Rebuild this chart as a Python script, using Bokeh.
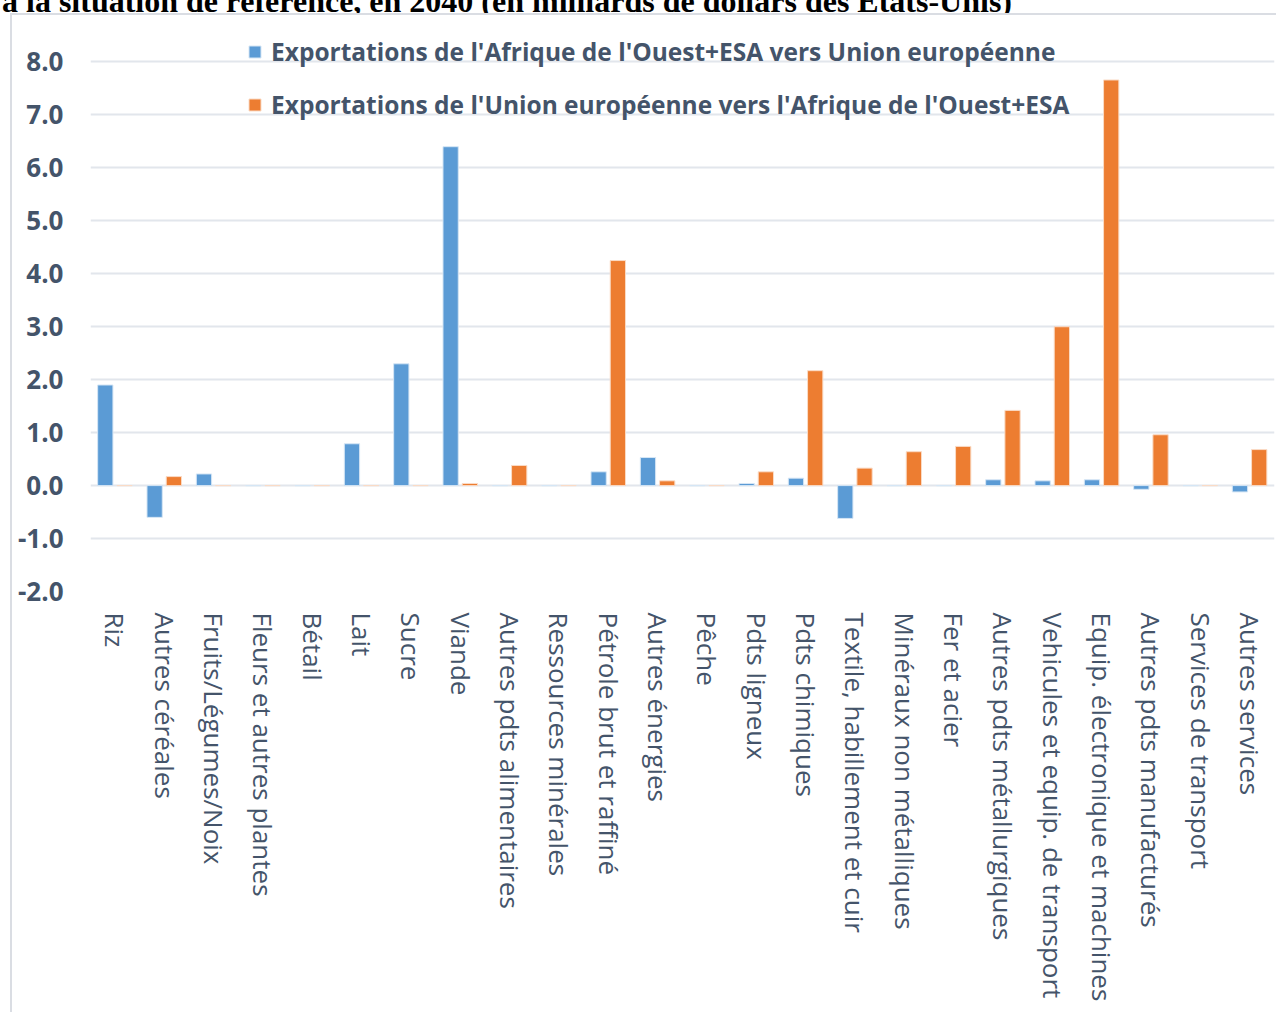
from bokeh.plotting import figure
from bokeh.models import (ColumnDataSource, FactorRange, FixedTicker, NumeralTickFormatter,
                          Legend, LegendItem, Div)
from bokeh.layouts import column
from bokeh.transform import dodge
from bokeh.embed import file_html
from bokeh.resources import INLINE

categories = ["Riz", "Autres céréales", "Fruits/Légumes/Noix", "Fleurs et autres plantes",
              "Bétail", "Lait", "Sucre", "Viande", "Autres pdts alimentaires",
              "Ressources minérales", "Pétrole brut et raffiné", "Autres énergies", "Pêche",
              "Pdts ligneux", "Pdts chimiques", "Textile, habillement et cuir",
              "Minéraux non métalliques", "Fer et acier", "Autres pdts métallurgiques",
              "Vehicules et equip. de transport", "Equip. électronique et machines",
              "Autres pdts manufacturés", "Services de transport", "Autres services"]

afr_to_eu = [1.90, -0.60, 0.22, 0.0, 0.0, 0.79, 2.30, 6.40, 0.0, 0.0, 0.26, 0.53, 0.0,
             0.04, 0.14, -0.62, 0.0, 0.0, 0.11, 0.09, 0.11, -0.07, 0.0, -0.12]
eu_to_afr = [0.0, 0.17, 0.0, 0.0, 0.0, 0.0, 0.0, 0.04, 0.38, 0.0, 4.25, 0.09, 0.0,
             0.26, 2.17, 0.33, 0.64, 0.74, 1.42, 3.00, 7.66, 0.96, 0.0, 0.68]

y_ticks = [-2, -1, 0, 1, 2, 3, 4, 5, 6, 7, 8]

series_names = ["Exportations de l'Afrique de l'Ouest+ESA vers Union européenne",
                "Exportations de l'Union européenne vers l'Afrique de l'Ouest+ESA"]
title_text = "à la situation de référence, en 2040 (en milliards de dollars des États-Unis)"

TEXT = "#44546A"
FONT = "Open Sans"

src = ColumnDataSource(dict(cat=categories, a=afr_to_eu, e=eu_to_afr))

# title strip (only its lower part is visible, as in the source page)
title_div = Div(
    text=('<div style="margin-top:-21px;padding-left:2px;white-space:nowrap;'
          'font-family:\'Liberation Serif\';font-weight:bold;font-size:32px;'
          'line-height:36px;color:black;">' + title_text + '</div>'),
    width=1276, height=13, styles={"overflow": "hidden", "margin": "0", "padding": "0"})

p = figure(x_range=FactorRange(*categories, range_padding=0), y_range=(-2.0, 8.5),
           width=1276, height=999, output_backend="svg", toolbar_location=None,
           min_border_left=90, min_border_right=2, min_border_top=22, min_border_bottom=421)
p.outline_line_color = None
p.background_fill_color = None
p.border_fill_color = None
# chart-area box (top-left corner, light grey)
p.styles = {
    "background-image": "linear-gradient(#DADDE3,#DADDE3), linear-gradient(#DADDE3,#DADDE3)",
    "background-size": "2px 100%, 100% 2px",
    "background-position": "10px 0px, 10px 0px",
    "background-repeat": "no-repeat",
}

r1 = p.vbar(x=dodge("cat", -0.2, range=p.x_range), top="a", bottom=0, width=0.31, source=src,
            fill_color="#5B9BD5", line_color="#D6E6F5", line_width=1)
r2 = p.vbar(x=dodge("cat", 0.19, range=p.x_range), top="e", bottom=0, width=0.31, source=src,
            fill_color="#ED7D31", line_color="#FADBC6", line_width=1)

# axes
p.yaxis.ticker = FixedTicker(ticks=y_ticks)
p.yaxis.formatter = NumeralTickFormatter(format="0.0")
p.yaxis.axis_line_color = None
p.yaxis.major_tick_line_color = None
p.yaxis.minor_tick_line_color = None
p.yaxis.major_tick_out = 0
p.yaxis.major_tick_in = 0
p.yaxis.major_label_standoff = 27
p.yaxis.major_label_text_font = FONT
p.yaxis.major_label_text_font_style = "bold"
p.yaxis.major_label_text_font_size = "26px"
p.yaxis.major_label_text_color = TEXT

p.xaxis.axis_line_color = None
p.xaxis.major_tick_line_color = None
p.xaxis.minor_tick_line_color = None
p.xaxis.major_tick_out = 0
p.xaxis.major_tick_in = 0
p.xaxis.major_label_orientation = "vertical"
p.xaxis.major_label_standoff = 21
p.xaxis.major_label_text_font = FONT
p.xaxis.major_label_text_font_size = "26px"
p.xaxis.major_label_text_color = TEXT

p.xgrid.grid_line_color = None
p.ygrid.grid_line_color = "#E2E6EC"
p.ygrid.grid_line_width = 2

legend = Legend(items=[LegendItem(label=series_names[0], renderers=[r1]),
                       LegendItem(label=series_names[1], renderers=[r2])],
                location=(157, 470), orientation="vertical")
legend.label_text_font = FONT
legend.label_text_font_style = "bold"
legend.label_text_font_size = "24.5px"
legend.label_text_color = TEXT
legend.glyph_width = 15
legend.glyph_height = 15
legend.label_height = 30
legend.spacing = 20
legend.padding = 0
legend.margin = 0
legend.label_standoff = 9
legend.border_line_color = None
legend.background_fill_alpha = 0
p.add_layout(legend, "center")

page = column(title_div, p, spacing=0)

open("out.html", "w").write(file_html(page, INLINE))
